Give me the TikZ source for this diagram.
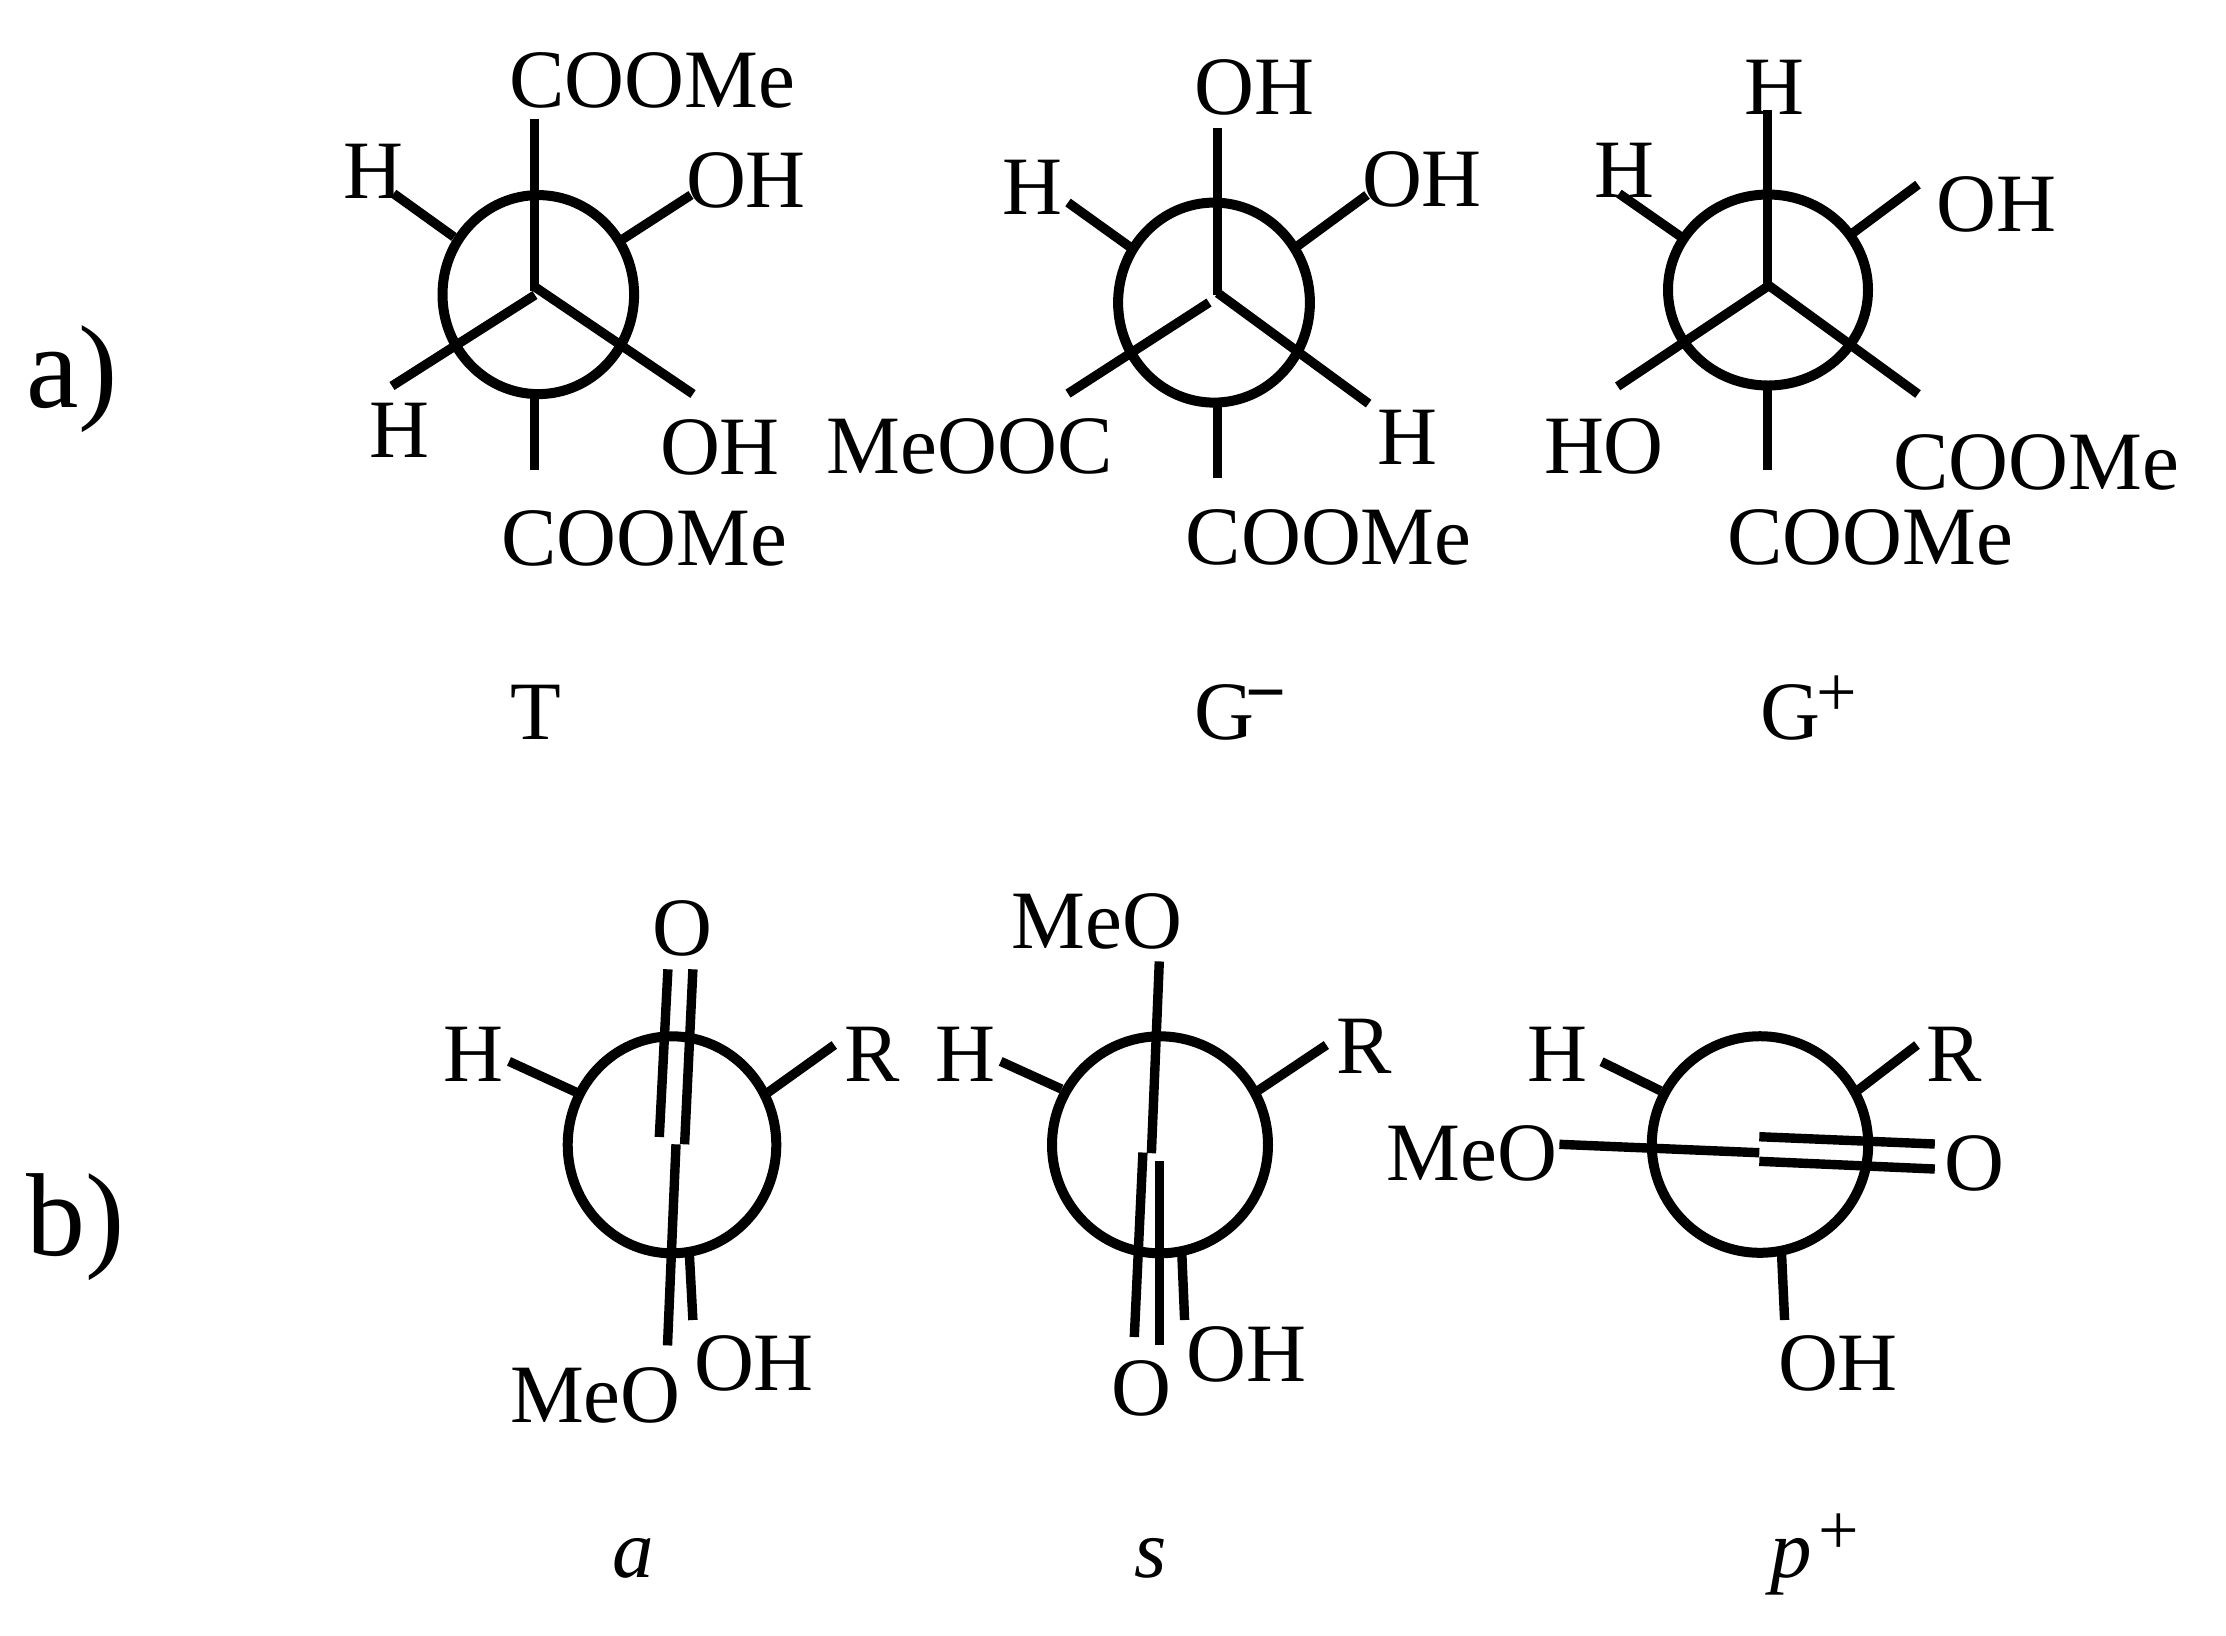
\documentclass[tikz,border=0pt]{standalone}
\usepackage{fontspec}
\usetikzlibrary{shapes.geometric}
\setmainfont{Liberation Serif}
\newcommand{\supsize}{\fontsize{36pt}{36pt}\selectfont}
\newcommand{\supmark}[2]{\kern#1\raisebox{11.5pt}{\supsize\upshape #2}}
% \bondline{name}{start}{end}: one bond between two named coordinates
\newcommand{\bondline}[3]{%
  \coordinate (#1a) at (#2);
  \coordinate (#1b) at (#3);
  \draw[bondstroke] (#1a) -- (#1b);}
\tikzset{
  bondstroke/.style={line width=4.7pt,line cap=butt},
  ringshape/.style={ellipse,draw,line width=5pt,inner sep=0pt,outer sep=0pt,fill=none},
  atomlabel/.style={anchor=base west,inner sep=0pt,outer sep=0pt,
    font=\fontsize{41.5pt}{41.5pt}\selectfont},
  partlabel/.style={anchor=base west,inner sep=0pt,outer sep=0pt,
    font=\fontsize{59pt}{59pt}\selectfont},
}
\begin{document}
\begin{tikzpicture}[x=0.5pt,y=-0.5pt]
\useasboundingbox[fill=white] (0,0) rectangle (2226,1635);

% part labels
\node[partlabel] (parta) at (26,407) {a)};
\node[partlabel] (partb) at (26,1255) {b)};

% --- T ---
\node[ringshape,minimum width=95.8pt,minimum height=99.5pt] (ringT) at (538.3,294.6) {};
\bondline{tA}{534.6,119}{534.6,291}
\bondline{tB}{535,287}{693,394}
\bondline{tC}{535,295}{392,386}
\bondline{tD}{393.6,193.6}{454,237}
\bondline{tE}{691,195}{623,239}
\bondline{tF}{534.6,398}{534.6,470}
\node[atomlabel] (t1) at (509,107) {COOMe};
\node[atomlabel] (t2) at (343.6,198) {H};
\node[atomlabel] (t3) at (686,207) {OH};
\node[atomlabel] (t4) at (369,457) {H};
\node[atomlabel] (t5) at (660,474) {OH};
\node[atomlabel] (t6) at (501.6,565) {COOMe};
\node[atomlabel] (tname) at (510,739.3) {T};

% --- G- ---
\node[ringshape,minimum width=95.9pt,minimum height=100pt] (ringGm) at (1214,302.6) {};
\bondline{mA}{1217.7,127.5}{1217.7,295}
\bondline{mB}{1217.7,293}{1368.6,403.6}
\bondline{mC}{1209,302.5}{1068,393.6}
\bondline{mD}{1068,202.5}{1130,247}
\bondline{mE}{1367,195}{1297,246.4}
\bondline{mF}{1217.7,407}{1217.7,477.5}
\node[atomlabel] (m1) at (1194.5,114.3) {OH};
\node[atomlabel] (m2) at (1002,214.3) {H};
\node[atomlabel] (m3) at (1362,206) {OH};
\node[atomlabel] (m4) at (826.5,473) {MeOOC};
\node[atomlabel] (m5) at (1377,464) {H};
\node[atomlabel] (m6) at (1185.7,564.3) {COOMe};
\node[atomlabel] (mname) at (1194,739.3) {G\supmark{-4pt}{\bfseries −}};

% --- G+ ---
\node[ringshape,minimum width=100pt,minimum height=95.5pt] (ringGp) at (1768,290) {};
\bondline{pA}{1767.6,110.4}{1767.6,288}
\bondline{pB}{1767.6,284.6}{1918,394}
\bondline{pC}{1767.6,286.4}{1617.6,386.4}
\bondline{pD}{1619,193.6}{1680.4,236.4}
\bondline{pE}{1918,184.6}{1853,232.9}
\bondline{pF}{1767.6,390}{1767.6,469.6}
\node[atomlabel] (p1) at (1744,114.3) {H};
\node[atomlabel] (p2) at (1594.6,197.5) {H};
\node[atomlabel] (p3) at (1936.6,231) {OH};
\node[atomlabel] (p4) at (1544,473) {HO};
\node[atomlabel] (p5) at (1893.5,489.3) {COOMe};
\node[atomlabel] (p6) at (1727,564.3) {COOMe};
\node[atomlabel] (pname) at (1760,739.3) {G\supmark{-1.5pt}{+}};

% --- a ---
\node[ringshape,minimum width=104.3pt,minimum height=108.5pt] (ringa) at (672,1144.8) {};
\bondline{aA}{667.9,969.3}{659.3,1137}
\bondline{aB}{692.9,969.3}{684.6,1144.3}
\bondline{aC}{676,1144.3}{667.5,1345.4}
\bondline{aD}{689.3,1253}{692.9,1320}
\bondline{aE}{509,1061.4}{576.8,1092.5}
\bondline{aF}{834.3,1045}{767.9,1092.5}
\node[atomlabel] (a1) at (652.6,955.7) {O};
\node[atomlabel] (a2) at (443.6,1081.8) {H};
\node[atomlabel] (a3) at (844,1081.8) {R};
\node[atomlabel] (a4) at (694,1390) {OH};
\node[atomlabel] (a5) at (510,1422.9) {MeO};
\node[atomlabel] (aname) at (612,1577) {\itshape a};

% --- s ---
\node[ringshape,minimum width=108pt,minimum height=108.5pt] (rings) at (1160,1144.8) {};
\bondline{sA}{1159.3,961.4}{1151.4,1153.2}
\bondline{sB}{1142.9,1152.5}{1134.3,1337}
\bondline{sC}{1159.3,1161}{1159.3,1345}
\bondline{sD}{1181.8,1253}{1184.6,1320}
\bondline{sE}{1000.7,1061.4}{1061.4,1089}
\bondline{sF}{1326.4,1045}{1257.9,1090.7}
\node[atomlabel] (s1) at (1011.4,948.6) {MeO};
\node[atomlabel] (s2) at (935,1081.8) {H};
\node[atomlabel] (s3) at (1336,1073.6) {R};
\node[atomlabel] (s4) at (1186.9,1381.8) {OH};
\node[atomlabel] (s5) at (1111.9,1415.7) {O};
\node[atomlabel] (sname) at (1134,1577) {\itshape s};

% --- p+ ---
\node[ringshape,minimum width=108.2pt,minimum height=108.3pt] (ringp) at (1760,1144.5) {};
\bondline{qA}{1559.4,1144.3}{1759.3,1152.7}
\bondline{qB}{1759.3,1136.7}{1934.8,1144}
\bondline{qC}{1759.3,1161.3}{1934.8,1169}
\bondline{qD}{1781.6,1255}{1784.6,1320}
\bondline{qE}{1601.5,1061.7}{1660.4,1090.7}
\bondline{qF}{1917,1045}{1858.2,1090}
\node[atomlabel] (q1) at (1527.4,1081.7) {H};
\node[atomlabel] (q2) at (1926.8,1081.7) {R};
\node[atomlabel] (q3) at (1386.8,1180.7) {MeO};
\node[atomlabel] (q4) at (1944.8,1190) {O};
\node[atomlabel] (q5) at (1778,1390) {OH};
\node[atomlabel] (qname) at (1770,1577) {\itshape p\supmark{3.5pt}{+}};
\end{tikzpicture}
\end{document}
